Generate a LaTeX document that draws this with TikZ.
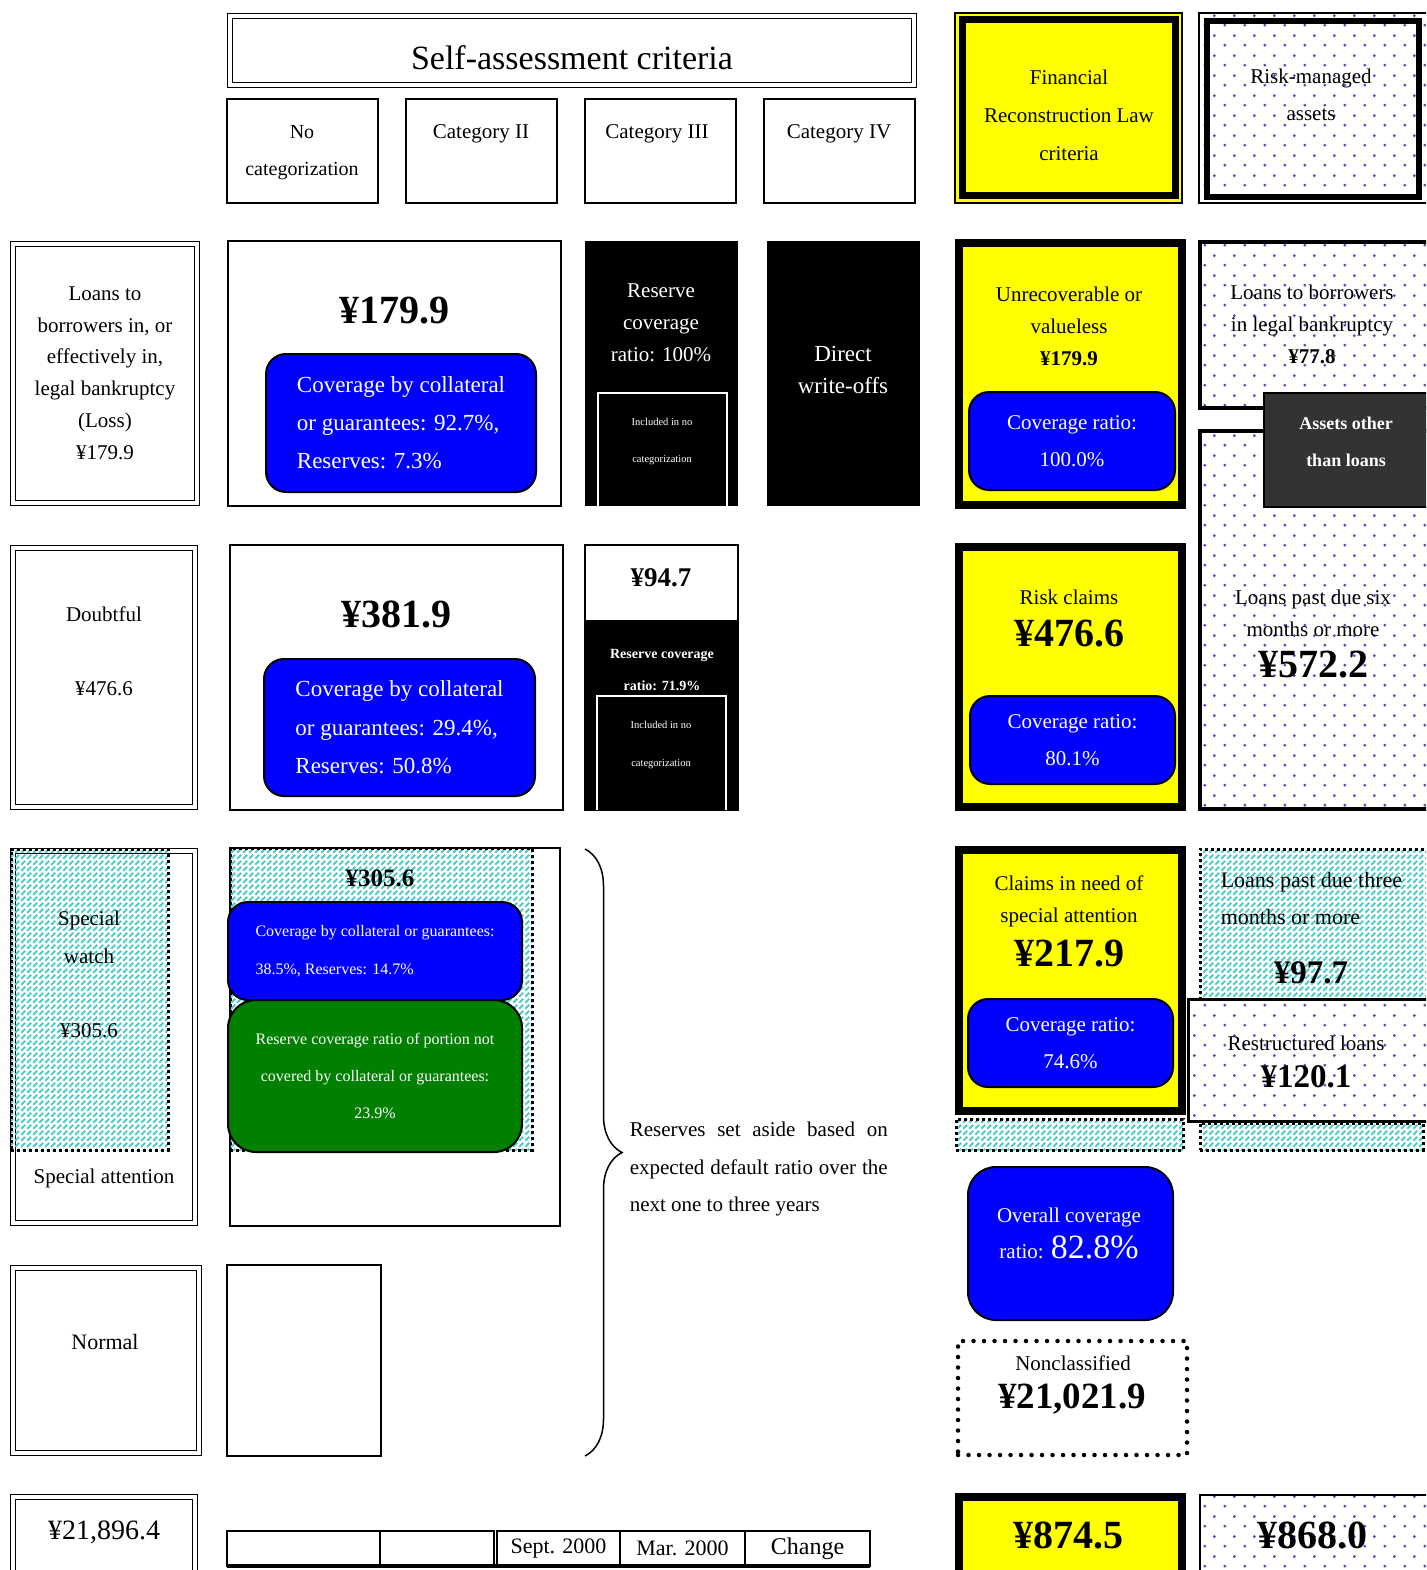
\documentclass[tikz,border=0pt]{standalone}
\usepackage{fontspec}
\setmainfont{Liberation Serif}
\usetikzlibrary{patterns, decorations.pathreplacing, positioning}
\definecolor{cyellow}{HTML}{FFFF00}
\definecolor{cblue}{HTML}{0000FF}
\definecolor{cgreen}{HTML}{008000}
\definecolor{cdark}{HTML}{333333}
\definecolor{cdots}{HTML}{4B4BD2}
\definecolor{chatch}{HTML}{4CCBCB}
\pgfdeclarepatternformonly{bluedots}{\pgfpointorigin}{\pgfpoint{20pt}{20pt}}{\pgfpoint{20pt}{20pt}}{%
  \pgfpathcircle{\pgfpoint{5pt}{5pt}}{1.6pt}%
  \pgfpathcircle{\pgfpoint{15pt}{15pt}}{1.6pt}%
  \pgfusepath{fill}}
\pgfdeclarepatternformonly{cyanhatch}{\pgfpoint{-1pt}{-1pt}}{\pgfpoint{7pt}{7pt}}{\pgfpoint{6pt}{6pt}}{%
  \pgfsetlinewidth{1.8pt}%
  \pgfpathmoveto{\pgfpoint{-1pt}{-1pt}}%
  \pgfpathlineto{\pgfpoint{7pt}{7pt}}%
  \pgfusepath{stroke}}
\tikzset{
  every picture/.style={line width=1.5pt},
  boxbase/.style={anchor=north west, inner sep=0pt, outer sep=0pt},
  sz/.style 2 args={minimum width=#1pt, minimum height=#2pt},
  plain/.style={boxbase, draw, fill=white},
  dbl/.style={boxbase, draw, double, double distance=3.4pt, line width=1.6pt},
  ybox/.style={boxbase, draw, fill=cyellow, line width=8pt},
  blk/.style={boxbase, fill=black},
  cover/.style={boxbase, draw, fill=cblue, text=white, rounded corners=20pt, line width=2pt, align=center},
  dotbox/.style={boxbase, draw, line width=3.5pt, pattern=bluedots, pattern color=cdots},
  hatchbox/.style={boxbase, draw, line width=3pt, dash pattern=on 3pt off 3pt, pattern=cyanhatch, pattern color=chatch},
  ndots/.style={boxbase, draw, line width=4.5pt, line cap=round, dash pattern=on 0pt off 10.5pt},
  txt/.style={align=center, inner sep=0pt, font={\fontsize{21pt}{32pt}\selectfont}},
  num/.style={inner sep=0pt, font={\bfseries\fontsize{40pt}{44pt}\selectfont}},
}

\begin{document}
\begin{tikzpicture}[x=1pt, y=-1pt]
  \useasboundingbox (0,0) rectangle (1426,1570);
  \clip (0,0) rectangle (1426,1570);
  % header
  \node[dbl, sz={684}{69}] (crit) at (230,16) {};
  \node[txt, font={\fontsize{34pt}{40pt}\selectfont}] (crittxt) at (572,58) {Self-assessment criteria};
  \node[plain, sz={151}{104}] (nocat) at (227,99) {};
  \node[plain, sz={151}{104}] (cat2) at (406,99) {};
  \node[plain, sz={151}{104}] (cat3) at (585,99) {};
  \node[plain, sz={151}{104}] (cat4) at (764,99) {};
  \node[txt, font={\fontsize{20pt}{37pt}\selectfont}] (nocattxt) at (302,153) {No\\categorization};
  \node[txt] (cat2txt) at (481,134) {Category II};
  \node[txt] (cat3txt) at (657,134) {Category III};
  \node[txt] (cat4txt) at (839,134) {Category IV};
  \node[plain, fill=cyellow, sz={227}{190}] (frl) at (955,13) {};
  \node[boxbase, draw, line width=7pt, sz={213}{176}] (frlin) at (962,20) {};
  \node[txt, font={\fontsize{21pt}{38pt}\selectfont}] (frltxt) at (1069,115) {Financial\\Reconstruction Law\\criteria};
  \node[boxbase, draw, pattern=bluedots, pattern color=cdots, sz={260}{190}] (rma) at (1199,13) {};
  \node[boxbase, draw, line width=6pt, sz={212}{176}] (rmain) at (1207,21) {};
  \node[txt, font={\fontsize{21pt}{37pt}\selectfont}] (rmatxt) at (1311,95) {Risk-managed\\assets};
  % loss row
  \node[dbl, sz={184}{259}] (loss) at (13,244) {};
  \node[txt, font={\fontsize{21pt}{31.8pt}\selectfont}] (losstxt) at (105,373) {Loans to\\borrowers in, or\\effectively in,\\legal bankruptcy\\(Loss)\\¥179.9};
  \node[plain, sz={333}{265}] (lossamt) at (228,241) {};
  \node[num] (lossnum) at (394,311) {¥179.9};
  \node[cover, sz={270}{138}, align=left, font={\fontsize{23pt}{38pt}\selectfont}] (losscov) at (266,354) {Coverage by collateral\\or guarantees: 92.7\%,\\Reserves: 7.3\%};
  \node[blk, sz={153}{265}] (res100) at (585,241) {};
  \node[txt, text=white] (res100txt) at (661,323) {Reserve\\coverage\\ratio: 100\%};
  \draw[white] (598,506) |- (727,393) -- (727,506);
  \node[txt, text=white, font={\fontsize{10.5pt}{37pt}\selectfont}] (incl1) at (662,441) {Included in no\\categorization};
  \node[blk, sz={153}{265}] (direct) at (767,241) {};
  \node[txt, text=white, font={\fontsize{23pt}{32pt}\selectfont}] (directtxt) at (843,370) {Direct\\write-offs};
  \node[ybox, sz={223}{262}] (unrec) at (959,243) {};
  \node[txt] (unrectxt) at (1069,326) {Unrecoverable or\\valueless\\\textbf{¥179.9}};
  \node[cover, sz={206}{98}, font={\fontsize{21pt}{37pt}\selectfont}] (unreccov) at (969,392) {Coverage ratio:\\100.0\%};
  \node[dotbox, sz={245}{166}] (bankr) at (1200,242) {};
  \node[txt] (bankrtxt) at (1312,324) {Loans to borrowers\\in legal bankruptcy\\\textbf{¥77.8}};
  \node[dotbox, sz={245}{378}] (sixm) at (1200,431) {};
  \node[txt] (sixmtxt) at (1313,613) {Loans past due six\\months or more};
  \node[num] (sixmnum) at (1313,665) {¥572.2};
  \node[boxbase, draw, fill=cdark, sz={176}{114}] (other) at (1264,393) {};
  \node[txt, text=white, font={\bfseries\fontsize{18pt}{37pt}\selectfont}] (othertxt) at (1346,442) {Assets other\\than loans};
  % doubtful row
  \node[dbl, sz={182}{259}] (doubt) at (13,548) {};
  \node[txt, font={\fontsize{21pt}{74pt}\selectfont}] (doubttxt) at (104,651) {Doubtful\\¥476.6};
  \node[plain, sz={333}{265}] (dbtamt) at (230,545) {};
  \node[num] (dbtnum) at (396,614) {¥381.9};
  \node[cover, sz={271}{137}, align=left, font={\fontsize{23pt}{38.5pt}\selectfont}] (dbtcov) at (264,659) {Coverage by collateral\\or guarantees: 29.4\%,\\Reserves: 50.8\%};
  \node[plain, sz={153}{265}] (res719) at (585,545) {};
  \node[blk, sz={153}{190}] (res719b) at (585,620) {};
  \node[num, font={\bfseries\fontsize{27pt}{30pt}\selectfont}] (res719num) at (661,578) {¥94.7};
  \node[txt, text=white, font={\bfseries\fontsize{14pt}{32pt}\selectfont}] (res719txt) at (662,670) {Reserve coverage\\ratio: 71.9\%};
  \draw[white] (597,810) |- (726,696) -- (726,810);
  \node[txt, text=white, font={\fontsize{10.5pt}{38pt}\selectfont}] (incl2) at (661,745) {Included in no\\categorization};
  \node[ybox, sz={223}{260}] (risk) at (959,547) {};
  \node[txt] (risktxt) at (1069,597) {Risk claims};
  \node[num] (risknum) at (1069,634) {¥476.6};
  \node[cover, sz={205}{88}, font={\fontsize{21pt}{37pt}\selectfont}] (riskcov) at (970,696) {Coverage ratio:\\80.1\%};
  % special attention row
  \node[dbl, sz={182}{372}] (spatt) at (13,851) {};
  \node[txt] (spatttxt) at (104,1178) {Special attention};
  \node[hatchbox, sz={157}{301}] (swatch) at (11,849) {};
  \node[txt, font={\fontsize{21pt}{38pt}\selectfont}] (swatchtxt) at (89,937) {Special\\watch};
  \node[txt] (swatchnum) at (89,1031) {¥305.6};
  \node[plain, sz={330}{378}] (spamt) at (230,848) {};
  \node[hatchbox, sz={302}{302}] (spwatch) at (230,848) {};
  \node[num, font={\bfseries\fontsize{25pt}{28pt}\selectfont}] (spnum) at (380,878) {¥305.6};
  \node[cover, sz={294}{98}, align=left, font={\fontsize{16pt}{38pt}\selectfont}] (spcov) at (228,902) {Coverage by collateral or guarantees:\\38.5\%, Reserves: 14.7\%};
  \node[cover, fill=cgreen, sz={294}{152}, rounded corners=28pt, font={\fontsize{16pt}{37pt}\selectfont}] (spres) at (228,1000) {Reserve coverage ratio of portion not\\covered by collateral or guarantees:\\23.9\%};
  \coordinate (bracetop) at (585,849);
  \coordinate (bracebot) at (585,1456);
  \draw[decorate, decoration={brace, amplitude=37pt}] (bracetop) -- (bracebot);
  \node[txt, anchor=west, align=justify, text width=258pt, font={\fontsize{21pt}{37.5pt}\selectfont}] (reservetxt) at (629,1169) {Reserves set aside based on\linebreak expected default ratio over the\linebreak next one to three years};
  \node[hatchbox, sz={250}{150}] (pd3) at (1200,849) {};
  \node[dotbox, line width=3pt, sz={260}{122}] (restr) at (1188,999) {};
  \node[ybox, sz={223}{261}] (attn) at (959,850) {};
  \node[txt] (attntxt) at (1069,901) {Claims in need of\\special attention};
  \node[num] (attnnum) at (1069,954) {¥217.9};
  \node[cover, sz={205}{88}, font={\fontsize{21pt}{37pt}\selectfont}] (attncov) at (968,999) {Coverage ratio:\\74.6\%};
  \node[txt, align=left, anchor=west, font={\fontsize{22pt}{37pt}\selectfont}] (pd3txt) at (1220,898) {Loans past due three\\months or more};
  \node[num, font={\bfseries\fontsize{33pt}{36pt}\selectfont}] (pd3num) at (1311,973) {¥97.7};
  \node[txt] (restrtxt) at (1306,1043) {Restructured loans};
  \node[num, font={\bfseries\fontsize{33pt}{36pt}\selectfont}] (restrnum) at (1306,1077) {¥120.1};
  \node[hatchbox, sz={227}{31}] (strip1) at (956,1119) {};
  \node[hatchbox, sz={223}{27}] (strip2) at (1200,1123) {};
  \node[cover, sz={205}{153}, rounded corners=28pt] (overall) at (968,1167) {};
  \node[txt, text=white, font={\fontsize{21pt}{36pt}\selectfont}] (overalltxt) at (1069,1233) {Overall coverage\\ratio: {\fontsize{34pt}{36pt}\selectfont 82.8\%}};
  \node[ndots, sz={229}{114}] (noncl) at (958,1341) {};
  \node[txt] (nonctxt) at (1073,1363) {Nonclassified};
  \node[num, font={\bfseries\fontsize{37pt}{40pt}\selectfont}] (noncnum) at (1072,1399) {¥21,021.9};
  % normal row
  \node[dbl, sz={186}{185}] (normal) at (13,1268) {};
  \node[txt, font={\fontsize{22pt}{30pt}\selectfont}] (normaltxt) at (105,1342) {Normal};
  \node[plain, sz={154}{191}] (normbox) at (227,1265) {};
  % totals
  \node[dbl, sz={182}{120}] (total) at (13,1497) {};
  \node[txt, font={\fontsize{28pt}{30pt}\selectfont}] (totaltxt) at (104,1532) {¥21,896.4};
  \node[plain, sz={153}{35}] (tc1) at (227,1531) {};
  \node[plain, sz={114}{35}] (tc2) at (380,1531) {};
  \node[plain, sz={123}{35}, font={\fontsize{22pt}{26pt}\selectfont}] (tc3) at (497,1531) {Sept. 2000};
  \node[plain, sz={125}{35}, font={\fontsize{22pt}{26pt}\selectfont}] (tc4) at (620,1531) {Mar. 2000};
  \node[plain, sz={125}{35}, font={\fontsize{24pt}{26pt}\selectfont}] (tc5) at (745,1531) {Change};
  \draw[line width=3.5pt] (tc1.south west) -- (tc5.south east);
  \node[ybox, sz={223}{120}] (tot1) at (959,1497) {};
  \node[num] (tot1num) at (1068,1535) {¥874.5};
  \node[dotbox, line width=2.5pt, sz={250}{120}] (tot2) at (1200,1495) {};
  \node[num] (tot2num) at (1312,1535) {¥868.0};
\end{tikzpicture}
\end{document}
